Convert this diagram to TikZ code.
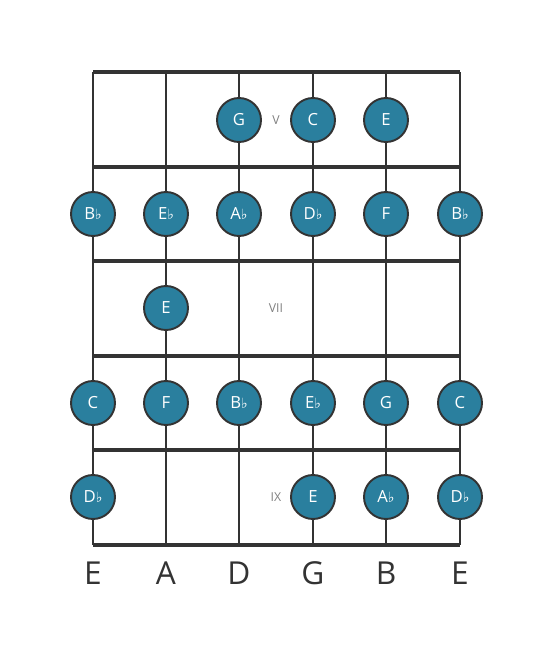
\documentclass[tikz,border=0pt]{standalone}
\usepackage{fontspec}
\setmainfont{Open Sans}
\newfontfamily\symfont{DejaVu Sans}
\usepackage{tikz}
\definecolor{dotblue}{HTML}{2A7F9E}
\definecolor{fretgray}{HTML}{333333}
\newcommand{\fl}{{\symfont\fontsize{8}{8}\selectfont ♭}}

\begin{document}
\begin{tikzpicture}[x=0.02cm,y=-0.02cm,
		note/.style={circle,draw=fretgray,line width=1.1pt,fill=dotblue,minimum size=0.88cm,inner sep=0pt,text=white,font=\fontsize{9.5}{10}\selectfont},
		fretnum/.style={text=gray,font=\fontsize{7}{8}\selectfont},
		strname/.style={text=fretgray,font=\fontsize{18}{20}\selectfont}]
			\useasboundingbox (0,0) rectangle (553,656);
			
			% strings
			
			\foreach \s/\x/\name in {1/93/E,2/166/A,3/239/D,4/313/G,5/386/B,6/460/E} {
				\draw[fretgray,line width=1.5pt] (\x,72) -- (\x,545);
				\node[strname] (S\s) at (\x,573) {\name};
			}
			
			% frets
			
			\foreach \y in {72,167,261,356,450,545} {
				\draw[fretgray,line width=2.4pt] (93,\y) -- (460,\y);
			}
			
			\node[fretnum] (F5) at (276,120) {V};
			\node[fretnum] (F7) at (276,308) {VII};
			\node[fretnum] (F9) at (276,497) {IX};
			
			% fret 5
			
			\node[note] (N1s3) at (239,120) {G};
			\node[note] (N1s4) at (313,120) {C};
			\node[note] (N1s5) at (386,120) {E};
			
			% fret 6
			
			\foreach \x/\n [count=\i] in {93/B\fl,166/E\fl,239/A\fl,313/D\fl,386/F,460/B\fl} {
				\node[note] (N2s\i) at (\x,214) {\n};
			}
			
			% fret 7
			
			\node[note] (N3s2) at (166,308) {E};
			
			% fret 8
			
			\foreach \x/\n [count=\i] in {93/C,166/F,239/B\fl,313/E\fl,386/G,460/C} {
				\node[note] (N4s\i) at (\x,403) {\n};
			}
			
			% fret 9
			
			\node[note] (N5s1) at (93,497) {D\fl};
			\node[note] (N5s4) at (313,497) {E};
			\node[note] (N5s5) at (386,497) {A\fl};
			\node[note] (N5s6) at (460,497) {D\fl};
			
		\end{tikzpicture}
\end{document}
